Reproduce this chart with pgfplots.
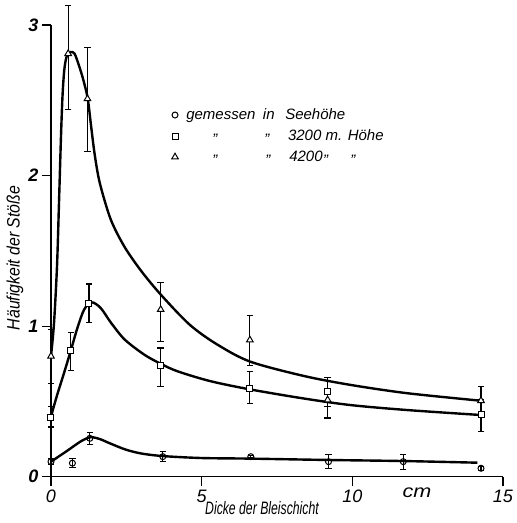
\documentclass[border=0pt]{standalone}
\usepackage{pgfplots}
\pgfplotsset{compat=1.18}
\usepackage{pgfplotstable}
\usepackage{fontspec}
\setmainfont{Liberation Sans}
\newcommand\fs{\fontsize{15pt}{17pt}\selectfont\itshape}
\newcommand\fl{\fontsize{18pt}{20pt}\selectfont\itshape}
\newcommand\at[2]{\makebox[0pt][l]{\hspace*{#1}#2}}
\newcommand\dit[1]{\makebox[0pt][l]{\hspace*{#1}\makebox[0pt][c]{\raisebox{0.3em}{„}}}}

\pgfplotstableread{
x y ep em
0 0.10 0.02 0.02
0.71 0.09 0.03 0.03
1.29 0.255 0.04 0.04
3.71 0.133 0.035 0.035
6.63 0.133 0.008 0.008
9.21 0.10 0.047 0.047
11.69 0.10 0.05 0.05
14.27 0.056 0.012 0.012
}\circdata

\pgfplotstableread{
x y ep em
0 0.395 0.07 0.065
0.66 0.835 0.12 0.13
1.26 1.15 0.13 0.125
3.64 0.74 0.115 0.14
6.6 0.587 0.11 0.10
9.18 0.565 0.095 0.10
14.27 0.41 0.10 0.11
}\sqdata

\pgfplotstableread{
x y ep em
0 0.80 0.175 0.18
0.57 2.81 0.32 0.37
1.21 2.51 0.34 0.35
3.64 1.11 0.18 0.21
6.6 0.908 0.16 0.17
9.18 0.51 0.13 0.12
14.27 0.505 0.095 0.09
}\tridata

\begin{document}
\begin{tikzpicture}
\useasboundingbox (-51pt,-46.3pt) rectangle (466pt,476.7pt);
\begin{axis}[
  at={(0,0)}, anchor=south west, scale only axis,
  width=452pt, height=451.7pt,
  xmin=0, xmax=15, ymin=0, ymax=3,
  axis lines=left, axis line style={-, line width=1.2pt},
  clip=false,
  xtick={0,5,10,15}, ytick={0,1,2,3},
  tick align=outside, major tick length=9pt,
  tick style={line width=1.2pt, black},
  /pgf/number format/assume math mode=true,
  ticklabel style={font=\fl},
  yticklabel style={font=\fl\bfseries},
  xticklabel style={yshift=-1pt},
  error bars/y dir=both, error bars/y explicit,
  error bars/error bar style={line width=1.1pt},
  error bars/error mark options={rotate=90, mark size=3.2pt, line width=1.1pt},
  legend image code/.code={\draw[#1] plot coordinates {(0pt,0pt)};},
  legend style={at={(axis cs:4.0,2.45)}, anchor=north west, draw=none, fill=none,
    inner sep=0pt, row sep=7pt, column sep=8pt, font=\fs,
    nodes={inner sep=0pt, text height=11pt, text depth=3pt}},
  legend cell align=left,
]
% curves
\addplot[line width=2.4pt, smooth, forget plot] coordinates {
(0,0.10) (0.5,0.167) (1.0,0.236) (1.32,0.262) (1.62,0.25) (1.95,0.222) (2.48,0.18)
(3.0,0.154) (3.71,0.137) (5,0.124) (6.63,0.12) (9.2,0.111) (11.7,0.104) (14.15,0.093)};
\addplot[line width=2.4pt, smooth, forget plot] coordinates {
(0,0.40) (0.2,0.54) (0.45,0.70) (0.66,0.84) (0.88,0.99) (1.1,1.11)
(1.35,1.158) (1.65,1.12) (2.0,1.02) (2.45,0.91) (3.1,0.81) (3.64,0.75)
(4.2,0.70) (5.28,0.635) (6.6,0.58) (8.37,0.52) (9.93,0.476) (11.8,0.443) (14.24,0.41)};
\addplot[line width=2.4pt, smooth, forget plot] coordinates {
(0,0.80) (0.1,1.02) (0.2,1.40) (0.27,1.85) (0.33,2.25) (0.38,2.52) (0.44,2.70)
(0.52,2.79) (0.65,2.82) (0.78,2.81) (0.93,2.73) (1.08,2.63) (1.22,2.51) (1.33,2.33)
(1.45,2.14) (1.62,1.95) (1.98,1.71) (2.43,1.53) (2.98,1.37) (3.64,1.21)
(4.6,1.01) (5.5,0.88) (6.6,0.765) (8.37,0.67) (9.93,0.61) (11.8,0.555) (14.24,0.505)};
% measured points
\addplot[only marks, mark=o, mark size=3pt, mark options={fill=white, line width=1pt}]
  table[x=x, y=y, y error plus=ep, y error minus=em] {\circdata};
\addlegendentry{\at{0pt}{gemessen}\at{76.7pt}{in}\at{99pt}{Seehöhe}\hspace*{158pt}}
\addplot[only marks, mark=square*, mark size=3pt, mark options={fill=white, line width=1pt}]
  table[x=x, y=y, y error plus=ep, y error minus=em] {\sqdata};
\addlegendentry{\dit{30pt}\dit{82pt}\at{101.7pt}{3200 m. Höhe}\hspace*{187pt}}
\addplot[only marks, mark=triangle*, mark size=3.8pt, mark options={fill=white, line width=1pt}]
  table[x=x, y=y, y error plus=ep, y error minus=em] {\tridata};
\addlegendentry{\dit{30pt}\dit{83pt}\at{103pt}{4200}\dit{140.7pt}\dit{168pt}\hspace*{172pt}}
\end{axis}
\draw[line width=1.2pt] (-9pt,0) -- (0,0);
\node[font=\fl] at (366pt,-16.3pt) {\scalebox{1.2}[1]{cm}};
\node[font=\fl] at (211pt,-31.3pt) {\scalebox{0.68}[1]{Dicke der Bleischicht}};
\node[font=\fl, rotate=90] at (-36pt,218.7pt) {\scalebox{0.88}[1]{Häufigkeit der Stöße}};
\end{tikzpicture}
\end{document}
